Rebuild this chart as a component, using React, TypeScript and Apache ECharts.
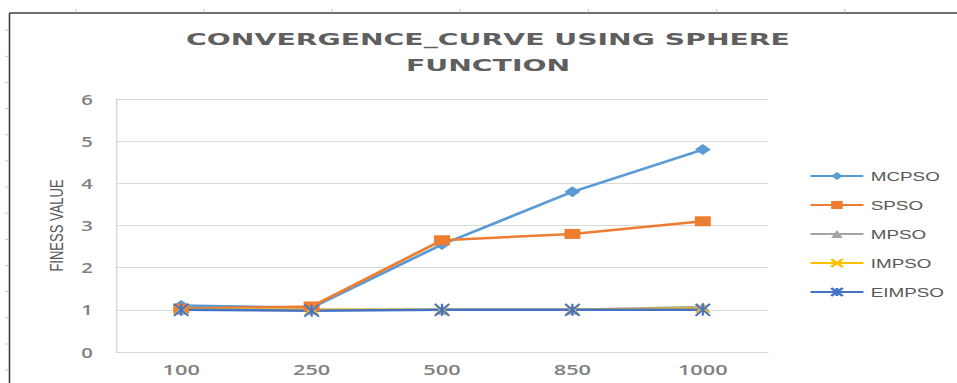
import React, { useEffect, useRef } from "react";
import * as echarts from "echarts";

const categories = ["100", "250", "500", "850", "1000"];
const mcpso = [1.1, 1.05, 2.55, 3.8, 4.8];
const spso = [1.03, 1.08, 2.65, 2.8, 3.1];
const mpso = [1.0, 1.0, 1.0, 1.0, 1.07];
const impso = [1.0, 1.0, 1.0, 1.0, 1.03];
const eimpso = [1.0, 0.98, 1.0, 1.0, 1.0];
const seriesNames = ["MCPSO", "SPSO", "MPSO", "IMPSO", "EIMPSO"];
const titleText = "CONVERGENCE_CURVE USING SPHERE\nFUNCTION";
const yName = "FINESS VALUE";

const S = 1.45;
const W = 957 / S;
const H = 383;

export default function App() {
  const ref = useRef<HTMLDivElement>(null);
  useEffect(() => {
    if (!ref.current) return;
    const chart = echarts.init(ref.current, undefined, { renderer: "svg", width: W, height: H });
    const sx = (x: number) => x / S;

    const deco: any[] = [];
    deco.push({
      type: "line", silent: true,
      shape: { x1: sx(9.5), y1: 13, x2: sx(9.5), y2: H + 5 },
      style: { stroke: "#3f3f3f", lineWidth: 1.1 },
    });
    deco.push({
      type: "line", silent: true,
      shape: { x1: sx(9.5), y1: 13, x2: W + 5, y2: 13 },
      style: { stroke: "#3f3f3f", lineWidth: 1.5 },
    });
    for (let k = 0; k < 7; k++) {
      const x = sx(76 + 128.1 * k);
      deco.push({
        type: "line", silent: true,
        shape: { x1: x, y1: 9, x2: x, y2: 12.5 },
        style: { stroke: "#c8c8c8", lineWidth: 0.8 },
      });
    }
    for (let k = 1; k < 15; k++) {
      const y = 4 + 26.15 * k;
      deco.push({
        type: "line", silent: true,
        shape: { x1: sx(5), y1: y, x2: sx(9), y2: y },
        style: { stroke: "#c8c8c8", lineWidth: 1 },
      });
    }
    deco.push({
      type: "text",
      x: sx(488),
      y: 53,
      scaleX: 1.3,
      style: {
        text: titleText,
        align: "center",
        verticalAlign: "middle",
        fontFamily: "DejaVu Sans",
        fontWeight: "bold",
        fontSize: 15,
        lineHeight: 26,
        fill: "#5f5f5f",
      },
    });

    const mk = (
      name: string,
      data: number[],
      color: string,
      symbol: string,
      symbolSize: any,
      stroke: boolean
    ) => ({
      name,
      type: "line",
      data,
      symbol,
      symbolSize,
      showSymbol: true,
      lineStyle: { color, width: 2.5 },
      itemStyle: { color, borderColor: color, borderWidth: stroke ? 1.6 : 0 },
    });

    chart.setOption({
      animation: false,
      backgroundColor: "#ffffff",
      graphic: deco,
      grid: { left: sx(116), right: W - sx(768), top: 99, bottom: H - 352, containLabel: false },
      legend: {
        orient: "vertical",
        left: sx(809) - 5,
        top: 164.5,
        itemWidth: sx(53),
        itemHeight: 10,
        itemGap: 16,
        data: seriesNames,
        textStyle: { fontFamily: "Liberation Sans", fontSize: 13, color: "#595959" },
      },
      xAxis: {
        type: "category",
        data: categories,
        boundaryGap: true,
        axisLine: { show: true, lineStyle: { color: "#d9d9d9", width: 1 } },
        axisTick: { show: false },
        axisLabel: {
          margin: 9,
          fontFamily: "Open Sans",
          fontWeight: 600,
          fontSize: 15,
          color: "#808080",
        },
      },
      yAxis: {
        type: "value",
        min: 0,
        max: 6,
        interval: 1,
        name: yName,
        nameLocation: "middle",
        nameRotate: 90,
        nameGap: 32,
        nameTextStyle: { fontFamily: "Liberation Sans", fontSize: 13, color: "#595959" },
        axisLine: { show: true, lineStyle: { color: "#d9d9d9", width: 1 } },
        axisTick: { show: false },
        splitLine: { show: true, lineStyle: { color: "#d9d9d9", width: 1 } },
        axisLabel: {
          margin: 16,
          fontFamily: "Open Sans",
          fontWeight: 600,
          fontSize: 14,
          color: "#808080",
        },
      },
      series: [
        mk(seriesNames[0], mcpso, "#5b9bd5", "diamond", [11, 11], false),
        mk(seriesNames[1], spso, "#ed7d31", "rect", [11, 10], false),
        mk(seriesNames[2], mpso, "#a5a5a5", "triangle", [10, 10], false),
        mk(seriesNames[3], impso, "#ffc000", "path://M0 0L10 10M10 0L0 10", [9, 9], true),
        mk(seriesNames[4], eimpso, "#4472c4", "path://M0 0L10 10M10 0L0 10M5 0L5 10", [10, 12], true),
      ],
    });
    return () => chart.dispose();
  }, []);

  return (
    <div style={{ position: "absolute", left: 0, top: 0, width: 957, height: 383, overflow: "hidden", background: "#fff" }}>
      <div
        ref={ref}
        style={{ width: W, height: H, transform: `scaleX(${S})`, transformOrigin: "0 0" }}
      />
    </div>
  );
}
